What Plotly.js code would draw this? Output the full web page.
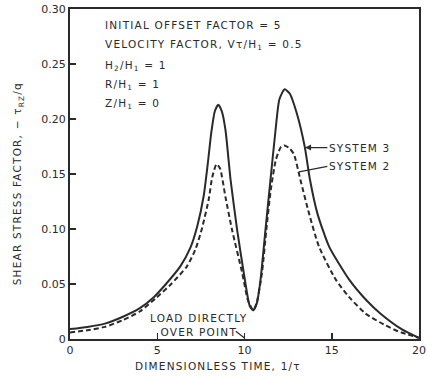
<!DOCTYPE html>
<html>
<head>
<meta charset="utf-8">
<script src="https://cdn.plot.ly/plotly-3.0.1.min.js"></script>
<style>
html,body{margin:0;padding:0;background:#fff;}
#chart{width:427px;height:378px;}
.annotation-text{letter-spacing:1.2px;}
</style>
</head>
<body>
<div id="chart"></div>
<script>
// Dimensionless time, 1/tau
const tSys3 = [0, 1, 2, 3, 4, 4.8, 5.5, 6.32, 6.9, 7.3, 7.66, 7.9, 8.1, 8.3, 8.5, 8.7, 8.91, 9.2, 9.58, 9.96, 10.3, 10.5, 10.7, 10.92, 11.2, 11.49, 11.78, 12.0, 12.3, 12.6, 13.0, 13.45, 13.75, 14.18, 14.85, 16.0, 17.0, 17.8, 19.0, 20];
const system3 = [0.009, 0.011, 0.014, 0.020, 0.028, 0.038, 0.050, 0.066, 0.083, 0.103, 0.130, 0.160, 0.188, 0.207, 0.213, 0.207, 0.190, 0.145, 0.099, 0.060, 0.030, 0.026, 0.032, 0.054, 0.099, 0.145, 0.190, 0.218, 0.227, 0.223, 0.205, 0.175, 0.145, 0.114, 0.084, 0.054, 0.035, 0.023, 0.009, 0.001];

const tSys2 = [0, 1, 2, 3, 4, 4.98, 5.8, 6.7, 7.2, 7.57, 7.95, 8.15, 8.4, 8.6, 8.91, 9.29, 9.87, 10.2, 10.5, 10.7, 11.0, 11.25, 11.5, 11.8, 12.1, 12.3, 12.6, 12.83, 13.2, 13.7, 14.27, 15.23, 16.0, 16.95, 18.0, 18.8, 20];
const system2 = [0.006, 0.008, 0.011, 0.017, 0.025, 0.038, 0.050, 0.066, 0.082, 0.101, 0.127, 0.147, 0.159, 0.155, 0.129, 0.099, 0.060, 0.035, 0.026, 0.033, 0.060, 0.099, 0.135, 0.163, 0.175, 0.176, 0.173, 0.168, 0.145, 0.114, 0.084, 0.054, 0.038, 0.023, 0.013, 0.007, 0.001];

const xTickVals = [0, 5, 10, 15, 20];
const xTickText = ["0", "5", "10", "15", "20"];
const yTickVals = [0, 0.05, 0.10, 0.15, 0.20, 0.25, 0.30];
const yTickText = ["0", "0.05", "0.10", "0.15", "0.20", "0.25", "0.30"];

const infoLines = ["INITIAL OFFSET FACTOR = 5", "VELOCITY FACTOR, Vτ/H<sub>1</sub> = 0.5", "H<sub>2</sub>/H<sub>1</sub> = 1", "R/H<sub>1</sub> = 1", "Z/H<sub>1</sub> = 0"];
const infoY = [0.952, 0.891, 0.827, 0.770, 0.712];

const ink = '#2a2a2a';
const FONT = 'DejaVu Sans, sans-serif';

const traces = [
  {x: tSys3, y: system3, mode: 'lines', name: 'SYSTEM 3',
   line: {color: ink, width: 2, shape: 'spline', smoothing: 0.6}, hoverinfo: 'skip'},
  {x: tSys2, y: system2, mode: 'lines', name: 'SYSTEM 2',
   line: {color: ink, width: 2, dash: '5px,3px', shape: 'spline', smoothing: 0.6}, hoverinfo: 'skip'}
];

const annotations = infoLines.map((txt, i) => ({
  text: txt, xref: 'paper', yref: 'paper', x: 0.094, y: infoY[i],
  xanchor: 'left', yanchor: 'middle', showarrow: false,
  font: {family: FONT, size: 10.5, color: ink}
}));

annotations.push(
  {text: 'SYSTEM 3', xref: 'x', yref: 'y', x: 13.47, y: 0.174, axref: 'x', ayref: 'y', ax: 14.75, ay: 0.174,
   xanchor: 'left', yanchor: 'middle', showarrow: true, arrowhead: 2, arrowsize: 1, arrowwidth: 1.2, arrowcolor: ink,
   standoff: 0, font: {family: FONT, size: 10.5, color: ink}},
  {text: 'SYSTEM 2', xref: 'x', yref: 'y', x: 13.12, y: 0.152, axref: 'x', ayref: 'y', ax: 14.75, ay: 0.157,
   xanchor: 'left', yanchor: 'middle', showarrow: true, arrowhead: 0, arrowwidth: 1.2, arrowcolor: ink,
   standoff: 0, font: {family: FONT, size: 10.5, color: ink}},
  {text: 'LOAD DIRECTLY<br>OVER POINT', xref: 'paper', yref: 'paper', x: 0.37, y: 0.041,
   xanchor: 'center', yanchor: 'middle', showarrow: false, align: 'center',
   font: {family: FONT, size: 10.5, color: ink}},
  {text: 'DIMENSIONLESS TIME, 1/τ', xref: 'paper', yref: 'paper', x: 0.424, y: -0.082,
   xanchor: 'center', yanchor: 'middle', showarrow: false,
   font: {family: FONT, size: 10.5, color: ink}},
  {text: 'SHEAR STRESS FACTOR, − τ<sub>RZ</sub>/q', xref: 'paper', yref: 'paper', x: -0.148, y: 0.47,
   xanchor: 'center', yanchor: 'middle', showarrow: false, textangle: -90,
   font: {family: FONT, size: 10.5, color: ink}}
);

const shapes = [
  {type: 'line', xref: 'x', yref: 'y', x0: 9.5, y0: 0.007, x1: 10.0, y1: 0.001,
   line: {color: ink, width: 1.2}}
];

const layout = {
  width: 427, height: 378,
  margin: {l: 70, r: 8, t: 9, b: 39},
  paper_bgcolor: '#fff', plot_bgcolor: '#fff',
  showlegend: false,
  font: {family: FONT, color: ink, size: 11},
  xaxis: {range: [0, 20], tickvals: xTickVals, ticktext: xTickText, ticks: 'inside', ticklen: 6, tickwidth: 1.5,
          tickcolor: ink, showline: true, linecolor: ink, linewidth: 2, mirror: true, showgrid: false, zeroline: false,
          tickfont: {family: FONT, size: 11, color: ink}, fixedrange: true},
  yaxis: {range: [0, 0.30], tickvals: yTickVals, ticktext: yTickText, ticks: 'inside', ticklen: 6, tickwidth: 1.5,
          tickcolor: ink, showline: true, linecolor: ink, linewidth: 2, mirror: true, showgrid: false, zeroline: false,
          tickfont: {family: FONT, size: 11, color: ink}, fixedrange: true},
  annotations: annotations,
  shapes: shapes
};

Plotly.newPlot('chart', traces, layout, {staticPlot: true, displayModeBar: false});
</script>
</body>
</html>
